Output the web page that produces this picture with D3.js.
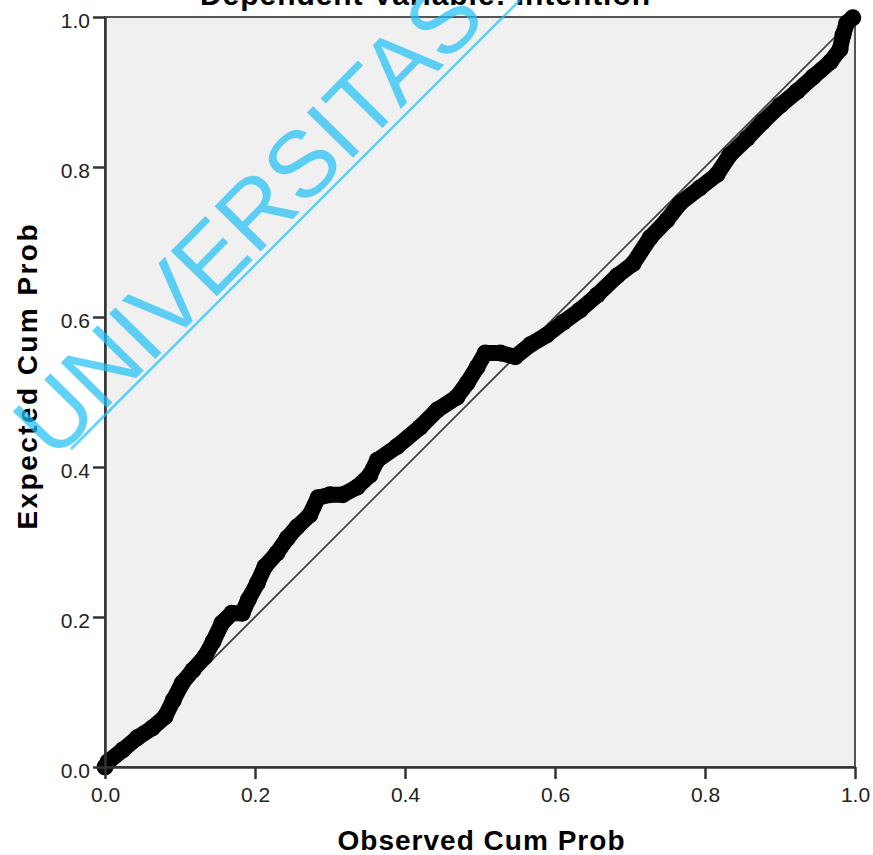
<!DOCTYPE html>
<html>
<head>
<meta charset="utf-8">
<script src="https://cdn.jsdelivr.net/npm/d3@7"></script>
<style>
    html, body { margin: 0; padding: 0; background: #fff; }
    svg { display: block; font-family: "Liberation Sans", Arial, sans-serif; }
</style>
</head>
<body>
<div id="canvas"></div>
<script>
// P-P plot values
const observed = [0.000, 0.004, 0.024, 0.043, 0.063, 0.080, 0.091, 0.103, 0.117, 0.133, 0.144, 0.156, 0.169, 0.183,
    0.191, 0.203, 0.213, 0.229, 0.243, 0.256, 0.273, 0.284, 0.300, 0.317, 0.336, 0.353, 0.363, 0.389, 0.420, 0.443,
    0.469, 0.483, 0.496, 0.507, 0.527, 0.547, 0.567, 0.589, 0.611, 0.633, 0.656, 0.683, 0.704, 0.727, 0.749, 0.767,
    0.793, 0.816, 0.833, 0.856, 0.877, 0.900, 0.923, 0.944, 0.967, 0.980, 0.984, 0.989, 0.997];
const expected = [0.000, 0.007, 0.023, 0.039, 0.052, 0.067, 0.089, 0.112, 0.129, 0.147, 0.167, 0.192, 0.205, 0.205,
    0.223, 0.245, 0.267, 0.285, 0.305, 0.320, 0.336, 0.359, 0.363, 0.363, 0.373, 0.389, 0.409, 0.427, 0.453, 0.476,
    0.493, 0.512, 0.533, 0.552, 0.552, 0.547, 0.563, 0.576, 0.593, 0.609, 0.629, 0.655, 0.671, 0.706, 0.729, 0.752,
    0.772, 0.790, 0.816, 0.838, 0.860, 0.882, 0.901, 0.920, 0.940, 0.957, 0.976, 0.992, 0.999];
const tickValues = [0, 0.2, 0.4, 0.6, 0.8, 1.0];
const refLine = [0, 1];

const title = 'Dependent Variable: Intention';
const xTitle = 'Observed Cum Prob';
const yTitle = 'Expected Cum Prob';
const watermark = 'UNIVERSITAS';

function draw() {
    const W = 873, H = 855;
    const left = 105, right = 855, top = 17, bottom = 767;

    const x = d3.scaleLinear().domain([0, 1]).range([left, right]);
    const y = d3.scaleLinear().domain([0, 1]).range([bottom, top]);

    const svg = d3.select('#canvas').append('svg')
        .attr('width', W)
        .attr('height', H);

    svg.append('rect')
        .attr('x', left).attr('y', top)
        .attr('width', right - left).attr('height', bottom - top)
        .attr('fill', '#f0f0f0')
        .attr('stroke', '#555')
        .attr('stroke-width', 2);

    // reference diagonal
    svg.append('line')
        .attr('x1', x(refLine[0])).attr('y1', y(refLine[0]))
        .attr('x2', x(refLine[1])).attr('y2', y(refLine[1]))
        .attr('stroke', '#3a3a3a')
        .attr('stroke-width', 1.6);

    const pts = observed.map((o, i) => [o, expected[i]]);

    svg.append('path')
        .datum(pts)
        .attr('d', d3.line().x(d => x(d[0])).y(d => y(d[1])))
        .attr('fill', 'none')
        .attr('stroke', '#000')
        .attr('stroke-width', 16)
        .attr('stroke-linejoin', 'round')
        .attr('stroke-linecap', 'round');

    svg.append('g')
        .selectAll('circle')
        .data(pts)
        .enter()
        .append('circle')
            .attr('cx', d => x(d[0]))
            .attr('cy', d => y(d[1]))
            .attr('r', 8.5)
            .attr('fill', '#000');

    const fmt = d3.format('.1f');

    const xAxis = svg.append('g')
        .attr('transform', 'translate(0,' + bottom + ')')
        .call(d3.axisBottom(x).tickValues(tickValues).tickFormat(fmt).tickSize(12).tickSizeOuter(0));
    xAxis.selectAll('text').attr('y', 20);

    const yAxis = svg.append('g')
        .attr('transform', 'translate(' + left + ',0)')
        .call(d3.axisLeft(y).tickValues(tickValues).tickFormat(fmt).tickSize(12).tickSizeOuter(0));
    yAxis.selectAll('text').attr('dy', '0.52em');

    [xAxis, yAxis].forEach(function(a) {
        a.select('.domain').attr('stroke', '#333').attr('stroke-width', 2.5);
        a.selectAll('.tick line').attr('stroke', '#333').attr('stroke-width', 2.5);
        a.selectAll('.tick text')
            .attr('fill', '#222')
            .style('font-size', '21px')
            .style('font-family', '"Liberation Sans", Arial, sans-serif');
    });

    svg.append('text')
        .attr('x', 425).attr('y', 5)
        .attr('text-anchor', 'middle')
        .attr('textLength', 450)
        .style('font-size', '30px')
        .style('font-weight', 'bold')
        .text(title);

    svg.append('text')
        .attr('x', 481).attr('y', 850)
        .attr('text-anchor', 'middle')
        .attr('textLength', 287)
        .style('font-size', '28px')
        .style('font-weight', 'bold')
        .text(xTitle);

    svg.append('text')
        .attr('transform', 'translate(37,377) rotate(-90)')
        .attr('text-anchor', 'middle')
        .attr('textLength', 305)
        .style('font-size', '28px')
        .style('font-weight', 'bold')
        .text(yTitle);

    // watermark
    const wm = svg.append('g').attr('opacity', 0.7);
    wm.append('text')
        .attr('transform', 'translate(54,462) rotate(-45.5)')
        .attr('fill', '#1ec0f5')
        .style('font-size', '94px')
        .text(watermark);
    wm.append('line')
        .attr('x1', 71).attr('y1', 449)
        .attr('x2', 520).attr('y2', 0)
        .attr('stroke', '#1ec0f5')
        .attr('stroke-width', 2.5);
}

draw();
</script>
</body>
</html>
